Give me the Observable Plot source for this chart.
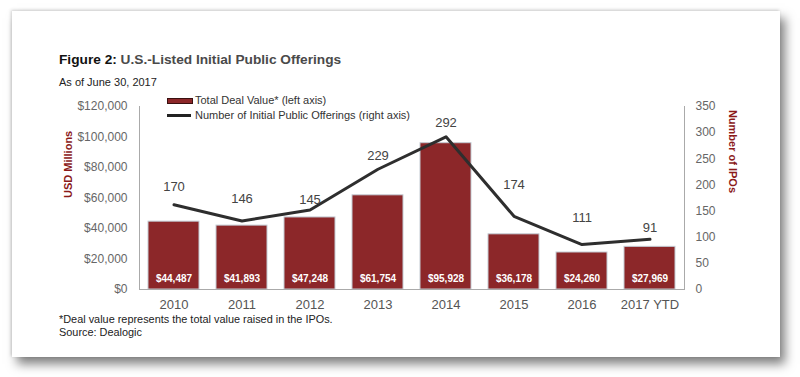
<!DOCTYPE html>
<html>
<head>
<meta charset="utf-8">
<script src="https://cdn.jsdelivr.net/npm/d3@7"></script>
<script src="https://cdn.jsdelivr.net/npm/@observablehq/plot@0.6"></script>
<style>
  html, body { margin: 0; padding: 0; background: #fff; width: 800px; height: 377px; overflow: hidden; }
  body { position: relative; font-family: "Liberation Sans", Arial, sans-serif; }
  #card { position: absolute; left: 12px; top: 11px; width: 768px; height: 346px; background: #fff;
          box-shadow: 5px 7px 10px rgba(0,0,0,0.5), -1px -1px 3px rgba(0,0,0,0.18); }
  .abs { position: absolute; white-space: nowrap; line-height: 1; }
  #title { left: 59px; top: 53px; font-size: 13.7px; font-weight: bold; color: #4a4a4a; }
  #title b { color: #111; }
  #subtitle { left: 59px; top: 77px; font-size: 11px; color: #222; }
  .leg { font-size: 11px; color: #333; }
  .sw { position: absolute; width: 24px; }
  #foot1 { left: 59px; top: 314px; font-size: 10.9px; color: #222; }
  #foot2 { left: 59px; top: 327px; font-size: 10.9px; color: #222; }
  #chart { position: absolute; left: 0; top: 90px; }
</style>
</head>
<body>
<div id="card"></div>
<div class="abs" id="title"><b>Figure 2:</b> U.S.-Listed Initial Public Offerings</div>
<div class="abs" id="subtitle">As of June 30, 2017</div>
<div id="chart"></div>
<div class="sw" style="left:167px; top:98px; height:4px; background:#8c2729; border:0.5px solid #3a1010;"></div>
<div class="abs leg" style="left:195px; top:95px;">Total Deal Value* (left axis)</div>
<div class="sw" style="left:167px; top:114px; height:3px; background:#222;"></div>
<div class="abs leg" style="left:195px; top:110px;">Number of Initial Public Offerings (right axis)</div>
<div class="abs" id="foot1">*Deal value represents the total value raised in the IPOs.</div>
<div class="abs" id="foot2">Source: Dealogic</div>
<script>
const years = ["2010", "2011", "2012", "2013", "2014", "2015", "2016", "2017 YTD"];
const dealValue = [44487, 41893, 47248, 61754, 95928, 36178, 24260, 27969];
const ipoCount = [170, 146, 145, 229, 292, 174, 111, 91];       // labelled values
const ipoLineDrawn = [162, 131, 152, 230, 292, 140, 86, 96];    // line as drawn in the picture
const leftTicks = [0, 20000, 40000, 60000, 80000, 100000, 120000];
const rightTicks = [0, 50, 100, 150, 200, 250, 300, 350];

const yMax = 120000, countMax = 350, k = yMax / countMax;
const data = years.map((y, i) => ({year: y, value: dealValue[i], count: ipoCount[i], drawn: ipoLineDrawn[i]}));
const fmt = d3.format(",");
const tickFont = "'Liberation Sans', Arial, sans-serif";

const chart = Plot.plot({
  width: 800,
  height: 225,
  marginLeft: 139,
  marginRight: 116,
  marginTop: 16,
  marginBottom: 26,
  style: {fontFamily: tickFont, fontSize: "12px", background: "transparent", overflow: "visible"},
  x: {domain: years, paddingInner: 0.25, paddingOuter: 0.125, label: null},
  y: {domain: [0, yMax], label: null},
  marks: [
    Plot.barY(data, {x: "year", y: "value", fill: "#8c2729", stroke: "#c3ccd4", strokeWidth: 1}),
    Plot.text(data, {x: "year", y: 0, dy: -11, text: d => "$" + fmt(d.value), fill: "white", fontWeight: "bold", fontSize: 10}),
    Plot.line(data, {x: "year", y: d => d.drawn * k, stroke: "#2e2e2e", strokeWidth: 3}),
    Plot.text(data, {x: "year", y: d => d.count * k, dy: -14, text: "count", fill: "#444", fontSize: 13}),
    Plot.axisX({tickSize: 0, tickPadding: 10, fontSize: 13, fill: "#555"}),
    Plot.axisY({anchor: "left", ticks: leftTicks, tickFormat: d => "$" + fmt(d), tickSize: 0, tickPadding: 12, fill: "#666", fontSize: 12}),
    Plot.axisY({anchor: "right", ticks: rightTicks.map(c => c * k), tickFormat: d => String(Math.round(d / k)), tickSize: 0, tickPadding: 11, fill: "#666", fontSize: 12}),
    Plot.ruleY([0], {stroke: "#aaa"}),
    Plot.frame({anchor: "left", stroke: "#aaa"}),
    Plot.frame({anchor: "right", stroke: "#aaa"}),
    Plot.text(["USD Millions"], {frameAnchor: "left", dx: -71, rotate: -90, fill: "#8b1a1a", fontWeight: "bold", fontSize: 11}),
    Plot.text(["Number of IPOs"], {frameAnchor: "right", dx: 48, dy: -5, rotate: 90, fill: "#8b1a1a", fontWeight: "bold", fontSize: 11})
  ]
});
document.getElementById("chart").appendChild(chart);
</script>
</body>
</html>
